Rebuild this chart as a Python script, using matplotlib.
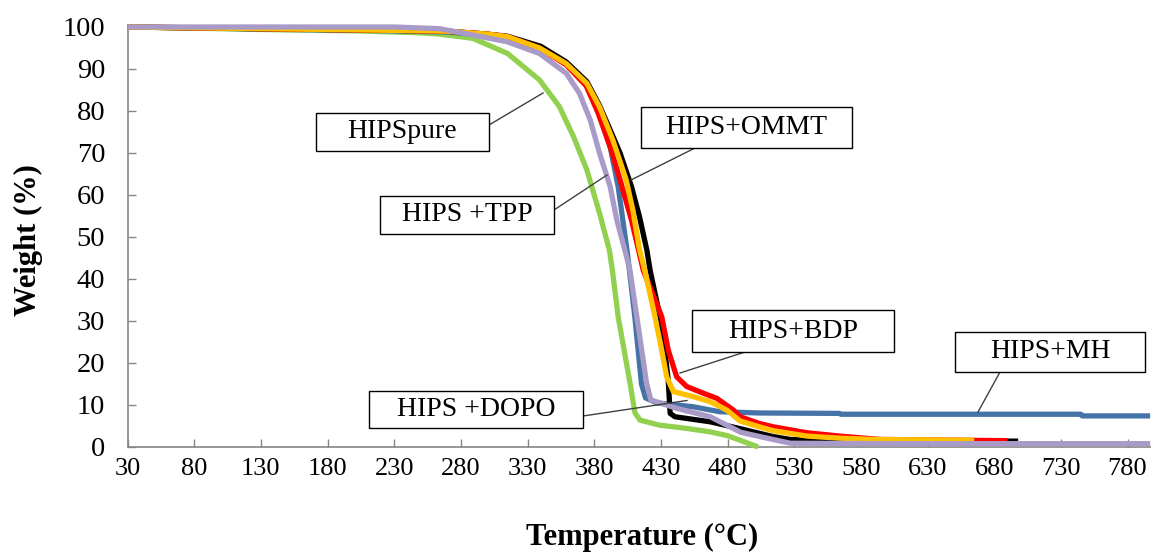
import matplotlib
matplotlib.use("Agg")
import matplotlib.pyplot as plt
from matplotlib.patches import Rectangle

plt.rcParams['font.family'] = ['Liberation Serif', 'DejaVu Serif']

# ---------------- data ----------------
t_pure = [30, 100, 150, 200, 250, 264, 289, 315, 339, 354, 364.5, 374.5, 384, 391.4, 393.7, 398, 406.9,
          410.6, 414.4, 429, 450, 467, 480, 492, 503]
w_pure = [100, 99.6, 99.3, 99.1, 98.6, 98.3, 97.3, 93.7, 87.4, 81, 73.9, 66, 55.7, 46.9, 42, 31, 15.2,
          8.1, 6.4, 5.2, 4.4, 3.6, 2.7, 1.3, 0]

t_mh = [30, 80, 130, 180, 230, 270, 300, 320, 340, 359, 374.5, 384, 392, 398, 401.5, 405, 410.5, 415.5,
        418.5, 427, 454, 474, 504, 564, 565, 745, 746, 797]
w_mh = [100, 99.8, 99.5, 99.3, 99.1, 98.8, 98.0, 97.0, 95.0, 91.5, 86.8, 81.2, 71.5, 62, 54, 46, 31, 15,
        11.7, 10.5, 9.6, 8.4, 8.1, 8.0, 7.8, 7.8, 7.4, 7.4]

t_ommt = [30, 80, 130, 180, 230, 270, 300, 315, 340, 359, 374.5, 384, 392, 399.4, 408, 414, 419.5, 422,
          429.4, 433, 435.5, 437, 440.6, 467, 489, 514, 527, 560, 600, 650, 698]
w_ommt = [100, 99.8, 99.6, 99.4, 99.2, 99.0, 98.3, 97.8, 95.4, 91.7, 87, 81.3, 75.5, 70, 62, 54.8, 46.9, 42,
          31, 23, 16, 8, 7.2, 6, 4.4, 2.5, 1.8, 1.5, 1.4, 1.4, 1.4]

t_dopo = [30, 80, 130, 180, 230, 270, 300, 315, 339, 359, 374.5, 384, 394, 404, 409, 414, 418, 425.6,
          430.7, 434.4, 439.4, 454.4, 466.9, 479.4, 489.4, 504, 514, 539.5, 564, 590, 630, 665]
w_dopo = [100, 99.8, 99.6, 99.4, 99.2, 99.0, 98.3, 97.7, 95, 91.3, 86.6, 81, 73.1, 63.6, 56.4, 47, 42, 31,
          23, 16.7, 13.2, 12, 10.8, 8.8, 6.2, 4.8, 3.9, 2.6, 2.1, 1.8, 1.7, 1.6]

t_bdp = [30, 80, 130, 180, 230, 270, 300, 315, 339, 359, 374, 383, 393, 400, 408, 416.9, 422,
         430.7, 435.6, 441.9, 449.4, 461.9, 471.9, 484.4, 489.4, 504, 514.4, 539.4, 564, 594, 626.6, 660, 690]
w_bdp = [100, 99.8, 99.6, 99.4, 99.2, 99.0, 98.3, 97.7, 95, 91, 86, 79.5, 70.5, 63, 54, 42, 38,
         31, 23, 16.7, 14.4, 12.8, 11.6, 8.8, 7.2, 5.6, 4.8, 3.4, 2.6, 1.8, 1.7, 1.6, 1.5]

t_tpp = [30, 130, 230, 264, 289, 314.6, 339, 359, 369, 377, 384, 392, 397, 403, 406.9, 412, 419.3,
         422.5, 442, 467, 490, 504, 527, 600, 700, 797]
w_tpp = [100, 100, 100, 99.6, 98.1, 96.5, 93.7, 89, 84.2, 77.9, 70, 62, 54, 46.9, 42, 31, 15.2,
         11.2, 9.2, 7.2, 3.5, 2.5, 0.9, 0.8, 0.8, 0.8]

x_ticks = list(range(30, 781, 50))
y_ticks = list(range(0, 101, 10))

labels = ["HIPSpure", "HIPS +TPP", "HIPS+OMMT", "HIPS+BDP", "HIPS +DOPO", "HIPS+MH"]
# ----------------------------------------------------------------

W, H = 1151, 552
fig = plt.figure(figsize=(W / 100, H / 100), dpi=100)
ax = fig.add_axes([127.5 / W, 105 / H, 1 - 127.5 / W, 420 / H])


def px2data(x, y):
    return 30 + (x - 127.5) * 0.75, (447 - y) / 4.2


# drawing order (bottom to top)
series = [
    (t_pure, w_pure, '#92D050'),
    (t_mh, w_mh, '#4572A7'),
    (t_ommt, w_ommt, '#000000'),
    (t_bdp, w_bdp, '#FF0000'),
    (t_dopo, w_dopo, '#FFC000'),
    (t_tpp, w_tpp, '#A99BC7'),
]
for i, (t, w, c) in enumerate(series):
    ax.plot(t, w, color=c, lw=3.8, solid_joinstyle='round', solid_capstyle='butt',
            clip_on=False, zorder=2 + i)

ax.set_xlim(30, 30 + (W - 127.5) * 0.75)
ax.set_ylim(0, 100)
ax.set_xticks(x_ticks)
ax.set_yticks(y_ticks)
ax.set_xticklabels([str(v) for v in x_ticks])
ax.set_yticklabels([str(v) for v in y_ticks])
for s in ['top', 'right']:
    ax.spines[s].set_visible(False)
for s in ['left', 'bottom']:
    ax.spines[s].set_color('#868686')
    ax.spines[s].set_linewidth(1.2)
    ax.spines[s].set_zorder(1)
ax.tick_params(axis='both', direction='in', length=6, width=1, color='#868686', labelcolor='black')
ax.tick_params(axis='y', pad=16, labelsize=20.5)
ax.tick_params(axis='x', pad=8, labelsize=19)
ax.set_ylabel('Weight (%)', fontsize=22, fontweight='bold')
ax.yaxis.set_label_coords((43 - 127.5) / 1023.5, (447 - 240) / 420)
ax.set_xlabel('Temperature (°C)', fontsize=22, fontweight='bold')
ax.xaxis.set_label_coords((642 - 127.5) / 1023.5, (447 - 523) / 420)

# annotation boxes (pixel geometry converted to data coordinates)
boxes = [
    ((316, 113, 489, 151), (489, 125), (543, 93)),
    ((380, 196, 554, 234), (554, 210), (607, 175)),
    ((641, 107, 852, 148), (695, 148), (631, 180)),
    ((692, 310, 894, 352), (745, 352), (680, 373)),
    ((369, 391, 583, 428), (583, 416), (687, 400.5)),
    ((955, 332, 1145, 372), (1000, 372), (978, 412)),
]
for lab, ((x0, y0, x1, y1), p0, p1) in zip(labels, boxes):
    a0, b1 = px2data(x0, y0)
    a1, b0 = px2data(x1, y1)
    ax.add_patch(Rectangle((a0, b0), a1 - a0, b1 - b0, facecolor='white', edgecolor='black',
                           lw=1.0, zorder=20, clip_on=False))
    ax.text((a0 + a1) / 2, (b0 + b1) / 2, lab, ha='center', va='center', fontsize=20,
            zorder=21, clip_on=False)
    q0 = px2data(*p0)
    q1 = px2data(*p1)
    ax.plot([q0[0], q1[0]], [q0[1], q1[1]], color='#404040', lw=1.0, zorder=19, clip_on=False)

fig.savefig('out.png', dpi=100)
